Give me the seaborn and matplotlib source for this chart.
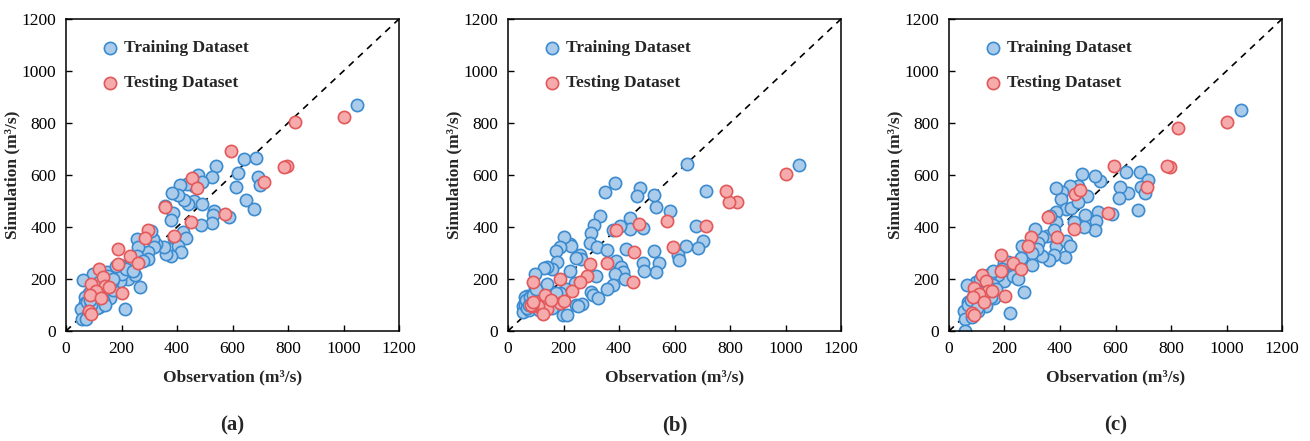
import pandas as pd
import seaborn as sns
import matplotlib.pyplot as plt

# training points, panel (a)
train_obs_a = [1050, 640, 686, 691, 700, 619, 611, 648, 679, 587, 542, 527, 477, 489, 460, 460,
               438, 427, 436, 412, 403, 383, 489, 532, 531, 525, 486, 356, 385, 380, 388, 421,
               431, 403, 415, 378, 360, 354, 325, 315, 308, 318, 296, 296, 256, 260, 255, 279,
               226, 224, 224, 250, 267, 214, 195, 197, 194, 178, 148, 148, 130, 96, 61, 118,
               147, 159, 159, 135, 123, 106, 84, 70, 70, 63, 53, 94, 118, 111, 78, 57, 71, 171, 166,
               75, 90, 100, 110, 130, 140, 85, 120, 150, 200, 215, 240, 170, 180]
train_sim_a = [869, 662, 664, 591, 562, 606, 555, 503, 470, 437, 635, 592, 601, 572, 558, 499,
               490, 503, 565, 560, 523, 531, 488, 463, 446, 417, 408, 479, 453, 427, 358, 381,
               359, 327, 303, 288, 296, 324, 335, 355, 386, 324, 304, 278, 353, 322, 287, 269,
               250, 218, 201, 214, 170, 86, 253, 223, 194, 224, 227, 199, 214, 219, 197, 173,
               167, 144, 128, 119, 113, 135, 145, 129, 106, 83, 85, 96, 91, 87, 64, 45, 46, 158, 190,
               110, 100, 130, 160, 150, 100, 120, 190, 210, 220, 240, 230, 200, 250]

# training points, panel (b)
train_obs_b = [1050, 645, 713, 679, 704, 686, 640, 614, 616, 543, 532, 526, 532, 526, 476, 464,
               585, 385, 350, 486, 438, 440, 404, 377, 426, 488, 491, 390, 406, 416, 386, 423,
               379, 358, 330, 311, 298, 295, 320, 317, 298, 308, 324, 357, 259, 263, 245, 223,
               227, 203, 189, 172, 176, 158, 141, 130, 222, 240, 209, 189, 139, 96, 98, 106,
               69, 61, 60, 55, 54, 74, 93, 151, 127, 199, 213, 245, 265, 251, 174,
               60, 65, 70, 80, 90, 100, 120, 140, 160, 110, 75]
train_sim_b = [640, 642, 538, 403, 345, 321, 327, 291, 273, 260, 228, 309, 476, 522, 549, 520,
               463, 569, 535, 395, 433, 392, 404, 388, 314, 260, 232, 269, 245, 227, 220, 199,
               177, 160, 442, 406, 376, 340, 322, 210, 150, 137, 128, 310, 292, 278, 279, 336,
               326, 360, 324, 309, 267, 240, 247, 241, 232, 186, 163, 145, 179, 219, 165, 150,
               135, 129, 113, 96, 74, 81, 106, 104, 113, 63, 63, 99, 103, 96, 146,
               100, 120, 90, 130, 140, 160, 100, 120, 90, 80, 100]

# training points, panel (c)
train_obs_c = [1053, 639, 687, 716, 693, 706, 646, 617, 612, 682, 588, 545, 526, 478, 497, 466,
               435, 408, 404, 384, 423, 440, 464, 490, 536, 531, 526, 488, 452, 384, 387, 363,
               354, 380, 387, 423, 435, 418, 380, 360, 335, 335, 310, 322, 316, 299, 298, 262,
               259, 257, 269, 219, 226, 226, 199, 199, 211, 175, 147, 144, 110, 96, 65, 159,
               161, 133, 98, 70, 70, 55, 56, 59, 84, 106, 126, 115,
               70, 80, 90, 100, 120, 140, 150, 170, 110, 160, 190, 230, 250]
train_sim_c = [850, 610, 610, 579, 553, 529, 529, 554, 513, 467, 451, 577, 597, 605, 521, 559,
               556, 533, 509, 550, 469, 472, 495, 446, 458, 423, 390, 401, 418, 456, 418, 442,
               365, 388, 327, 346, 328, 283, 292, 272, 290, 360, 391, 337, 314, 301, 254, 328,
               282, 240, 151, 70, 232, 214, 194, 260, 265, 214, 221, 199, 190, 188, 178, 177,
               126, 97, 104, 112, 81, 78, 45, 0, 55, 77, 135, 155,
               100, 120, 140, 90, 150, 170, 130, 160, 200, 230, 240, 210, 200]

# testing points (same observations in every panel)
test_obs = [1000, 826, 797, 787, 715, 595, 573, 455, 473, 452, 358, 390, 296, 285, 188, 188,
            231, 260, 118, 134, 141, 155, 202, 90, 108, 87, 127, 83, 90]
test_sim_a = [823, 805, 636, 630, 572, 691, 451, 588, 550, 419, 477, 365, 388, 358, 315, 258,
              288, 262, 238, 207, 173, 169, 146, 181, 154, 138, 127, 77, 65]
test_sim_b = [605, 496, 495, 540, 403, 322, 423, 305, 410, 190, 262, 387, 258, 212, 199, 106,
              154, 188, 115, 138, 85, 119, 114, 188, 96, 96, 65, 100, 111]
test_sim_c = [805, 781, 629, 633, 554, 633, 455, 528, 541, 394, 440, 362, 360, 328, 291, 231,
              260, 240, 217, 192, 155, 155, 136, 164, 142, 131, 112, 68, 63]

panel_labels = ['(a)', '(b)', '(c)']
legend_labels = ['Training Dataset', 'Testing Dataset']
ticks = [0, 200, 400, 600, 800, 1000, 1200]

train_fill, train_edge = '#aacbe9', '#3b8bd0'
test_fill, test_edge = '#f5abab', '#e2585b'

sns.set_style('white')
plt.rcParams['font.family'] = ['Liberation Serif', 'DejaVu Serif']

fig = plt.figure(figsize=(13.1, 4.41), dpi=100)
lefts = [66 / 1310, 508 / 1310, 949 / 1310]

panels = [
    (train_obs_a, train_sim_a, test_sim_a),
    (train_obs_b, train_sim_b, test_sim_b),
    (train_obs_c, train_sim_c, test_sim_c),
]

for i, (tr_x, tr_y, te_y) in enumerate(panels):
    ax = fig.add_axes([lefts[i], 110 / 441, 333 / 1310, 312 / 441])
    df_tr = pd.DataFrame({'obs': tr_x, 'sim': tr_y})
    df_te = pd.DataFrame({'obs': test_obs, 'sim': te_y})

    # 1:1 line
    ax.plot([0, 1200], [0, 1200], color='black', ls=(0, (4, 3.5)), lw=1.2, zorder=1)

    sns.scatterplot(data=df_tr, x='obs', y='sim', ax=ax, s=78, color=train_fill,
                    edgecolor=train_edge, linewidth=1.2, label=legend_labels[0], zorder=2)
    sns.scatterplot(data=df_te, x='obs', y='sim', ax=ax, s=78, color=test_fill,
                    edgecolor=test_edge, linewidth=1.2, label=legend_labels[1], zorder=3)

    ax.set_xlim(0, 1200)
    ax.set_ylim(0, 1200)
    ax.set_xticks(ticks)
    ax.set_yticks(ticks)
    ax.tick_params(direction='in', length=4, width=1, labelsize=12.5, colors='black',
                   bottom=True, left=True, top=False, right=False, pad=7)
    for sp in ax.spines.values():
        sp.set_color('black')
        sp.set_linewidth(1.1)
    ax.set_xlabel('Observation (m³/s)', fontsize=12.5, fontweight='bold', labelpad=9)
    ax.set_ylabel('Simulation (m³/s)', fontsize=12.5, fontweight='bold')
    ax.yaxis.set_label_coords(-0.137, 0.5)

    leg = ax.legend(loc='upper left', bbox_to_anchor=(0.06, 0.955), frameon=False,
                    fontsize=12.5, labelspacing=1.1, handletextpad=-0.2, borderaxespad=0,
                    markerscale=1.0)
    for t in leg.get_texts():
        t.set_fontweight('bold')

    fig.text(lefts[i] + 333 / 1310 / 2, 16 / 441, panel_labels[i], ha='center', va='center',
             fontsize=15, fontweight='bold')

fig.savefig('out.png', dpi=100)
